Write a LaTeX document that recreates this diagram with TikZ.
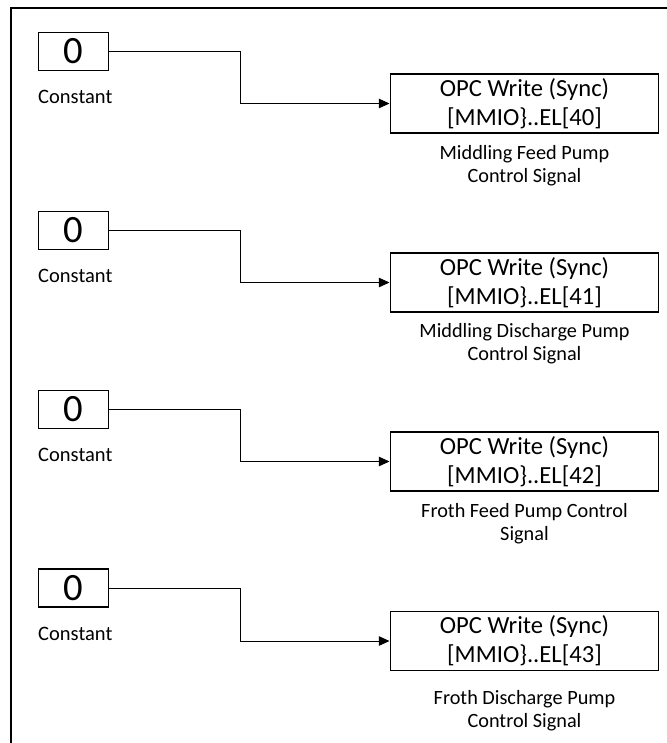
\documentclass[tikz,border=0pt]{standalone}
\usepackage{fontspec}
\setmainfont{Carlito}
\usepackage{tikz}
\usetikzlibrary{arrows.meta}

\begin{document}
\begin{tikzpicture}[x=0.03cm, y=-0.03cm,
    constbox/.style={draw, line width=1.4pt, minimum width=2.1cm, minimum height=1.14cm, inner sep=0pt, font=\fontsize{33}{36}\selectfont},
    opcbox/.style={draw, line width=1.4pt, minimum width=8.05cm, minimum height=1.76cm, inner sep=0pt, align=center, font=\fontsize{21}{24.6}\selectfont},
    constlabel/.style={anchor=west, inner sep=0pt, font=\fontsize{17.5}{20}\selectfont},
    opclabel/.style={align=center, inner sep=0pt, font=\fontsize{17.3}{19.5}\selectfont},
    wire/.style={line width=0.7pt, -{Triangle[length=9pt, width=8pt]}}]
                \useasboundingbox (0,0) rectangle (667,743);
                \draw[line width=2.2pt] (11,743) -- (11,8) -- (667,8);

                \node[constbox] (c1) at (73.5,51.5) {0};
                \node[constbox] (c2) at (73.5,230.5) {0};
                \node[constbox] (c3) at (73.5,409.5) {0};
                \node[constbox] (c4) at (73.5,588) {0};

                \node[constlabel] (cl1) at (38,97) {Constant};
                \node[constlabel] (cl2) at (38,276) {Constant};
                \node[constlabel] (cl3) at (38,455) {Constant};
                \node[constlabel] (cl4) at (38,634) {Constant};

                \node[opcbox] (w1) at (524.5,103.5) {OPC Write (Sync)\\{[MMIO\}..EL[40]}};
                \node[opcbox] (w2) at (524.5,282.5) {OPC Write (Sync)\\{[MMIO\}..EL[41]}};
                \node[opcbox] (w3) at (524.5,461.5) {OPC Write (Sync)\\{[MMIO\}..EL[42]}};
                \node[opcbox] (w4) at (524.5,641) {OPC Write (Sync)\\{[MMIO\}..EL[43]}};

                \node[opclabel] (wl1) at (524.5,166) {Middling Feed Pump\\Control Signal};
                \node[opclabel] (wl2) at (524.5,344) {Middling Discharge Pump\\Control Signal};
                \node[opclabel] (wl3) at (524.5,524) {Froth Feed Pump Control\\Signal};
                \node[opclabel] (wl4) at (524.5,711) {Froth Discharge Pump\\Control Signal};

                \draw[wire] (c1.east) -| (240,103.5) -- (w1.west);
                \draw[wire] (c2.east) -| (240,282.5) -- (w2.west);
                \draw[wire] (c3.east) -| (240,461.5) -- (w3.west);
                \draw[wire] (c4.east) -| (240,641) -- (w4.west);
            \end{tikzpicture}
\end{document}
